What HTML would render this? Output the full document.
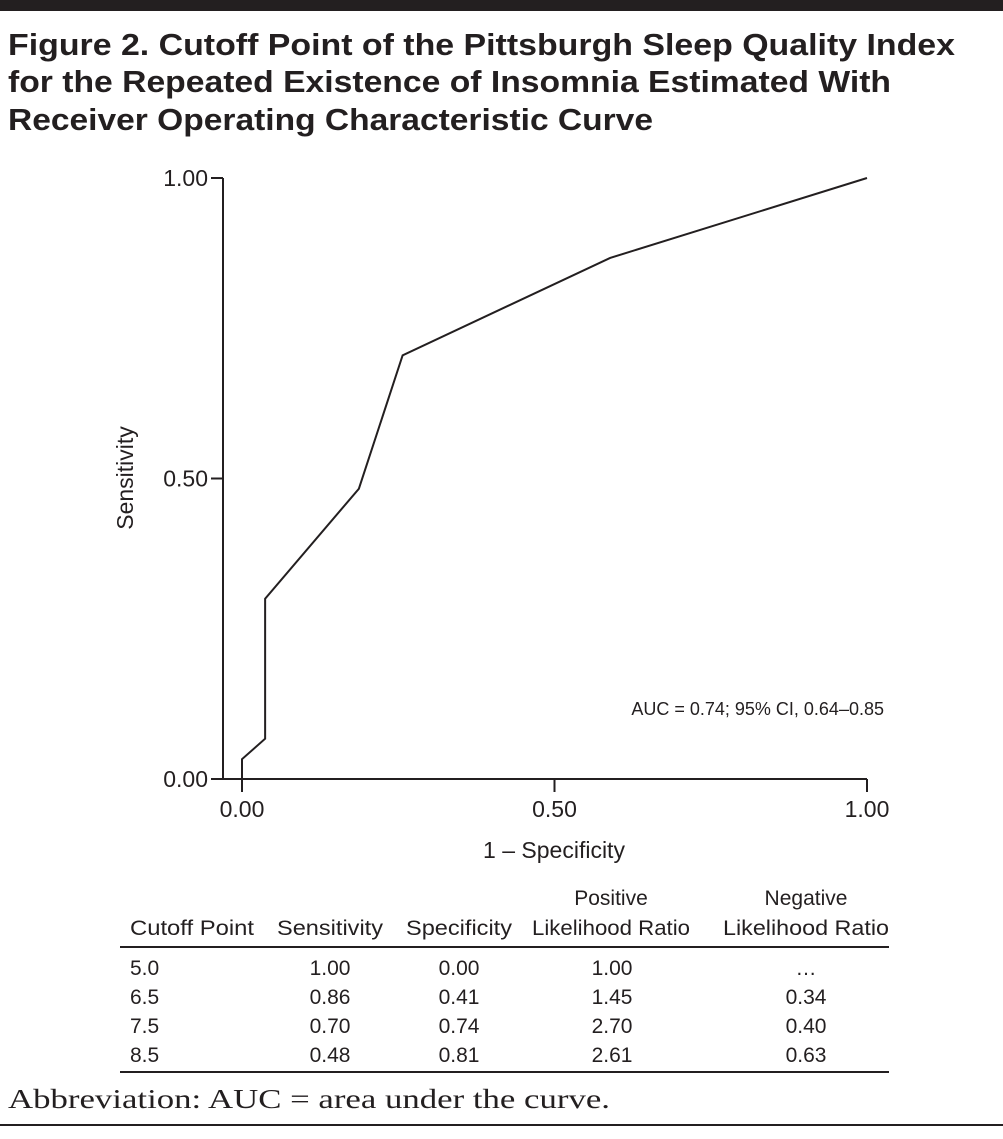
<!DOCTYPE html>
<html><head><meta charset="utf-8"><style>
html,body{margin:0;padding:0;background:#fff}
svg{display:block}
text{font-family:"Liberation Sans",sans-serif;fill:#231f20}
</style></head><body>
<svg width="1003" height="1139" viewBox="0 0 1003 1139">
<rect x="0" y="0" width="1003" height="11" fill="#231f20"/>
<g font-weight="bold" font-size="31">
<text x="8" y="55" textLength="947" lengthAdjust="spacingAndGlyphs">Figure 2. Cutoff Point of the Pittsburgh Sleep Quality Index</text>
<text x="8" y="92" textLength="883" lengthAdjust="spacingAndGlyphs">for the Repeated Existence of Insomnia Estimated With</text>
<text x="8" y="130" textLength="645" lengthAdjust="spacingAndGlyphs">Receiver Operating Characteristic Curve</text>
</g>
<g id="chart"></g>
<g font-size="21">
<text x="611" y="905" text-anchor="middle">Positive</text>
<text x="806" y="905" text-anchor="middle">Negative</text>
<text x="130" y="935" textLength="124" lengthAdjust="spacingAndGlyphs">Cutoff Point</text>
<text x="330" y="935" text-anchor="middle" textLength="106" lengthAdjust="spacingAndGlyphs">Sensitivity</text>
<text x="459" y="935" text-anchor="middle" textLength="106" lengthAdjust="spacingAndGlyphs">Specificity</text>
<text x="611" y="935" text-anchor="middle" textLength="158" lengthAdjust="spacingAndGlyphs">Likelihood Ratio</text>
<text x="806" y="935" text-anchor="middle" textLength="166" lengthAdjust="spacingAndGlyphs">Likelihood Ratio</text>
<rect x="120" y="946" width="769" height="2" fill="#231f20"/>
<g id="rows"></g>
<rect x="120" y="1071" width="769" height="2" fill="#231f20"/>
</g>
<text x="8" y="1108" style="font-family:'Liberation Serif',serif" font-size="27" textLength="602" lengthAdjust="spacingAndGlyphs">Abbreviation: AUC = area under the curve.</text>
<rect x="0" y="1124" width="1003" height="2" fill="#231f20"/>
</svg>
<script>
const fpr = [0, 0, 0.037, 0.037, 0.187, 0.257, 0.589, 1];
const tpr = [0, 0.033, 0.067, 0.30, 0.483, 0.705, 0.867, 1];
const xTicks = [0, 0.5, 1];
const yTicks = [0, 0.5, 1];
const tickLabels = ["0.00", "0.50", "1.00"];
const cutoffs = ["5.0", "6.5", "7.5", "8.5"];
const sens = ["1.00", "0.86", "0.70", "0.48"];
const spec = ["0.00", "0.41", "0.74", "0.81"];
const plr = ["1.00", "1.45", "2.70", "2.61"];
const nlr = ["…", "0.34", "0.40", "0.63"];
const NS = "http://www.w3.org/2000/svg";
const X = v => 242 + v * 625;
const Y = v => 779 - v * 601;
const g = document.getElementById('chart');
function mk(tag, attrs, parent, txt){const e=document.createElementNS(NS,tag);for(const k in attrs)e.setAttribute(k,attrs[k]);if(txt!==undefined)e.textContent=txt;(parent||g).appendChild(e);return e;}
let e;
e = mk('line',{x1:223,y1:Y(1),x2:223,y2:779,stroke:'#231f20','stroke-width':2});


e = mk('line',{x1:223,y1:779,x2:X(1),y2:779,stroke:'#231f20','stroke-width':2});


yTicks.forEach((t,i)=>{
  e = mk('line',{x1:211,y1:Y(t),x2:223,y2:Y(t),stroke:'#231f20','stroke-width':2});
  
  
  e = mk('text',{x:208,y:Y(t)+8,'text-anchor':'end','font-size':23},g,tickLabels[i]);
  
  
});
xTicks.forEach((t,i)=>{
  e = mk('line',{x1:X(t),y1:779,x2:X(t),y2:792,stroke:'#231f20','stroke-width':2});
  
  
  e = mk('text',{x:X(t),y:817,'text-anchor':'middle','font-size':23},g,tickLabels[i]);
  
  
});
e = mk('text',{x:554,y:858,'text-anchor':'middle','font-size':23},g,'1 – Specificity');


e = mk('text',{x:0,y:0,'text-anchor':'middle','font-size':23,transform:'translate(133,478) rotate(-90)'},g,'Sensitivity');


e = mk('polyline',{points:fpr.map((f,i)=>X(f)+','+Y(tpr[i])).join(' '),fill:'none',stroke:'#231f20','stroke-width':2,'stroke-linejoin':'miter'});


e = mk('text',{x:884,y:715,'text-anchor':'end','font-size':18},g,'AUC = 0.74; 95% CI, 0.64–0.85');


const rows = document.getElementById('rows');
cutoffs.forEach((c,i)=>{
  const y = 975 + i*29;
  const r = mk('g',{},rows);
  
  
  mk('text',{x:130,y:y},r,c);
  mk('text',{x:330,y:y,'text-anchor':'middle'},r,sens[i]);
  mk('text',{x:459,y:y,'text-anchor':'middle'},r,spec[i]);
  mk('text',{x:612,y:y,'text-anchor':'middle'},r,plr[i]);
  mk('text',{x:806,y:y,'text-anchor':'middle'},r,nlr[i]);
});
</script>
</body></html>
